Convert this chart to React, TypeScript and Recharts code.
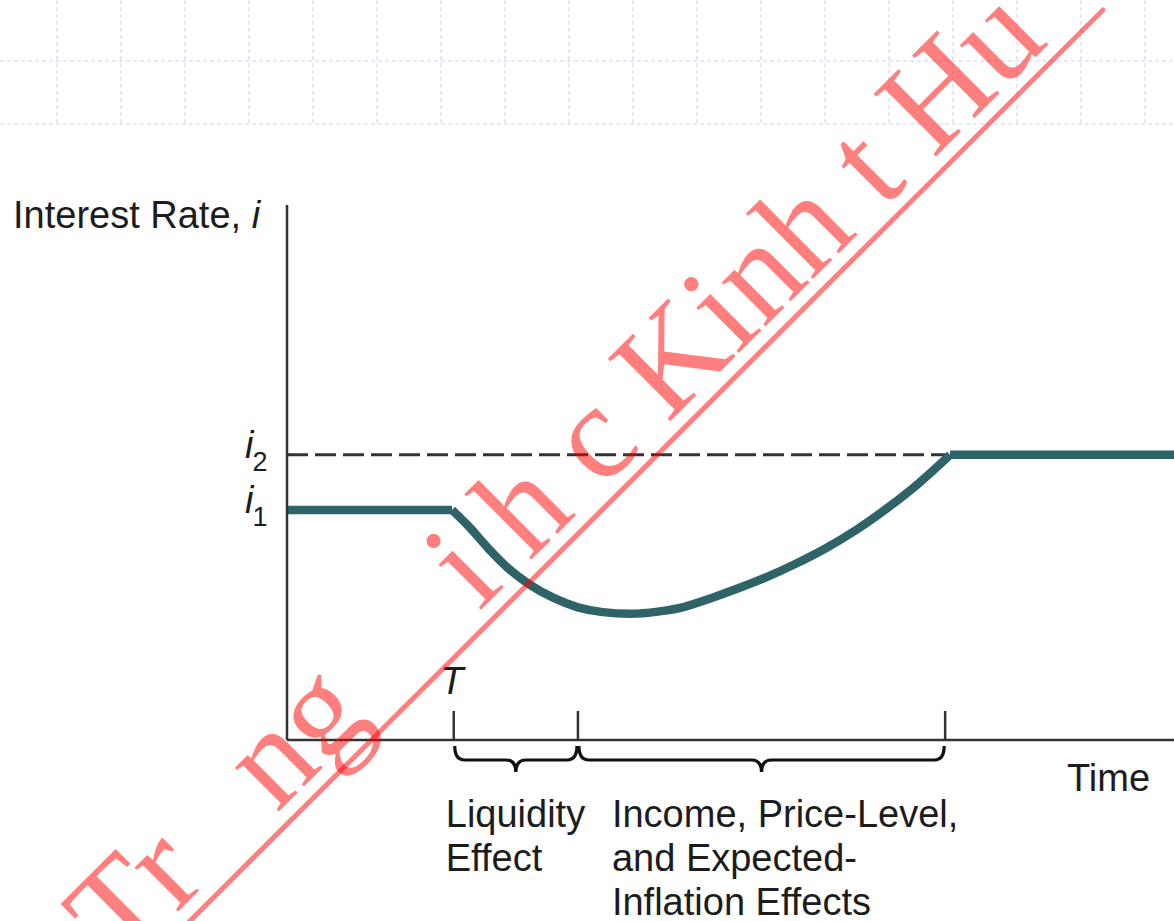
import React from 'react';
import { ComposedChart, Line, XAxis, YAxis, ReferenceLine, ReferenceArea } from 'recharts';

// ---- data (time in % of horizon, interest rate in arbitrary units 0..10) ----
const preShockTimes = [0, 18.6];
const preShockRates = [4.3, 4.3];
const responseTimes = [18.6, 20.5, 22.7, 25.0, 27.4, 30.0, 32.8, 35.6, 38.7, 41.8, 44.8, 47.8, 50.8, 54.0, 57.3, 60.7, 64.2, 67.8, 71.3, 74.75];
const responseRates = [4.3, 3.99, 3.58, 3.2, 2.9, 2.66, 2.48, 2.39, 2.36, 2.4, 2.49, 2.65, 2.83, 3.04, 3.29, 3.58, 3.93, 4.35, 4.81, 5.33];
const postTimes = [74.75, 100];
const postRates = [5.33, 5.33];

const rateTicks = [4.3, 5.33];
const rateTickLabels = ['1', '2'];
const timeTicks = [18.8, 32.8, 74.2];
const shockLabel = 'T';
const liquidityLines = ['Liquidity', 'Effect'];
const incomeLines = ['Income, Price-Level,', 'and Expected-', 'Inflation Effects'];
const yTitle = 'Interest Rate, ';
const yTitleItalic = 'i';
const xTitle = 'Time';

const watermarkChunks = ['Tr', 'ng', 'i h c Kinh t Hu'];
const watermarkOffsets = [-82, 137, 423];

const toRows = (ts: number[], vs: number[]) => ts.map((t, i) => ({ t, rate: vs[i] }));
const preData = toRows(preShockTimes, preShockRates);
const responseData = toRows(responseTimes, responseRates);
const postData = toRows(postTimes, postRates);

const FONT = '"Liberation Sans", Arial, Helvetica, sans-serif';
const TEXT = '#1c1c1c';
const AXIS = '#333333';
const TEAL = '#2e6468';

const YTick = (props: any) => {
  const { x, y, index } = props;
  return (
    <text x={x - 42} y={y + 3} fontFamily={FONT} fontSize={38} fill={TEXT}>
      <tspan fontStyle="italic">i</tspan>
      <tspan fontSize={27} dx={-1} dy={13}>{rateTickLabels[index]}</tspan>
    </text>
  );
};

const XTick = (props: any) => {
  const { x, y, index } = props;
  return (
    <g>
      <line x1={x} x2={x} y1={y - 29} y2={y} stroke={AXIS} strokeWidth={2.5} />
      {index === 0 && (
        <text x={x - 2} y={y - 46} textAnchor="middle" fontFamily={FONT} fontSize={38} fontStyle="italic" fill={TEXT}>
          {shockLabel}
        </text>
      )}
    </g>
  );
};

const bracePath = (x1: number, x2: number, y0: number) => {
  const mid = (x1 + x2) / 2;
  const y1 = y0 + 14;
  const tip = y0 + 26;
  const q = 10;
  return `M${x1},${y0} Q${x1},${y1} ${x1 + q},${y1} L${mid - q},${y1} Q${mid},${y1} ${mid},${tip} Q${mid},${y1} ${mid + q},${y1} L${x2 - q},${y1} Q${x2},${y1} ${x2},${y0}`;
};

const makeBrace = (lines: string[], textDx: number) => (props: any) => {
  const { x, y, width, height } = props;
  const base = y + height;
  return (
    <g>
      <path d={bracePath(x + 1, x + width - 1, base + 6)} fill="none" stroke="#111" strokeWidth={3.2} />
      <text x={x + textDx} fontFamily={FONT} fontSize={38} fill={TEXT}>
        {lines.map((l, i) => (
          <tspan key={i} x={x + textDx} y={base + 87 + i * 44}>{l}</tspan>
        ))}
      </text>
    </g>
  );
};

const LiquidityBrace = makeBrace(liquidityLines, -8);
const IncomeBrace = makeBrace(incomeLines, 34);

const YLabel = (props: any) => {
  const vb = props.viewBox;
  return (
    <text x={vb.x + vb.width - 274} y={vb.y + 23} fontFamily={FONT} fontSize={38} fill={TEXT}>
      {yTitle}
      <tspan fontStyle="italic">{yTitleItalic}</tspan>
    </text>
  );
};

const XLabel = (props: any) => {
  const vb = props.viewBox;
  return (
    <text x={vb.x + vb.width - 107} y={vb.y + 51} fontFamily={FONT} fontSize={38} fill={TEXT}>
      {xTitle}
    </text>
  );
};

const BackgroundGrid = () => {
  const cols: number[] = [];
  for (let i = 0; i < 18; i++) cols.push(57 + i * 64);
  return (
    <svg width={1174} height={921} style={{ position: 'absolute', left: 0, top: 0 }}>
      {cols.map((c) => (
        <line key={c} x1={c} x2={c} y1={0} y2={124} stroke="#c7d3fb" strokeWidth={1} strokeDasharray="4 3" />
      ))}
      <line x1={0} x2={1174} y1={61} y2={61} stroke="#c7d3fb" strokeWidth={1} strokeDasharray="4 3" />
      <line x1={0} x2={1174} y1={124} y2={124} stroke="#c7d3fb" strokeWidth={1} strokeDasharray="4 3" />
    </svg>
  );
};

const Watermark = () => {
  const ang = (44.9 * Math.PI) / 180;
  const ux = Math.cos(ang), uy = -Math.sin(ang);
  const vx = -Math.sin(ang), vy = -Math.cos(ang);
  const x0 = 190, y0 = 921, d = 15;
  return (
    <svg width={1174} height={921} style={{ position: 'absolute', left: 0, top: 0, pointerEvents: 'none' }}>
      <line x1={185} y1={926} x2={1103} y2={10} stroke="rgba(255,0,0,0.5)" strokeWidth={5} strokeLinecap="round" />
      {watermarkChunks.map((c, i) => {
        const s = watermarkOffsets[i];
        const px = x0 + s * ux + d * vx;
        const py = y0 + s * uy + d * vy;
        return (
          <text key={i} x={px} y={py} transform={`rotate(-44.9 ${px} ${py})`} fontFamily='"Liberation Serif", "Times New Roman", serif' fontSize={135} fill="rgba(255,0,0,0.5)" style={{ whiteSpace: 'pre' }}>
            {c}
          </text>
        );
      })}
    </svg>
  );
};

export default function App() {
  return (
    <div style={{ position: 'absolute', left: 0, top: 0, width: 1174, height: 921, overflow: 'hidden', background: '#fff' }}>
      <BackgroundGrid />
      <div style={{ position: 'absolute', left: 0, top: 0 }}>
        <ComposedChart width={1174} height={921} margin={{ top: 205, right: 0, bottom: 151, left: 227 }}>
          <XAxis
            type="number"
            dataKey="t"
            domain={[0, 100]}
            ticks={timeTicks}
            allowDataOverflow
            tickLine={false}
            tickSize={0}
            tickMargin={0}
            height={30}
            axisLine={{ stroke: AXIS, strokeWidth: 2.5 }}
            tick={<XTick />}
            label={<XLabel />}
          />
          <YAxis
            type="number"
            dataKey="rate"
            domain={[0, 10]}
            ticks={rateTicks}
            allowDataOverflow
            tickLine={false}
            tickSize={0}
            tickMargin={0}
            width={60}
            axisLine={{ stroke: AXIS, strokeWidth: 2.5 }}
            tick={<YTick />}
            label={<YLabel />}
          />
          <ReferenceLine
            segment={[{ x: 0, y: rateTicks[1] }, { x: timeTicks[2], y: rateTicks[1] }]}
            stroke={AXIS}
            strokeWidth={3}
            strokeDasharray="21 7"
            ifOverflow="visible"
          />
          <ReferenceArea x1={timeTicks[0]} x2={timeTicks[1]} y1={0} y2={0.05} shape={<LiquidityBrace />} ifOverflow="visible" />
          <ReferenceArea x1={timeTicks[1]} x2={timeTicks[2]} y1={0} y2={0.05} shape={<IncomeBrace />} ifOverflow="visible" />
          <Line data={preData} dataKey="rate" type="linear" stroke={TEAL} strokeWidth={8.5} dot={false} isAnimationActive={false} />
          <Line data={responseData} dataKey="rate" type="monotone" stroke={TEAL} strokeWidth={8.5} dot={false} isAnimationActive={false} />
          <Line data={postData} dataKey="rate" type="linear" stroke={TEAL} strokeWidth={8.5} dot={false} isAnimationActive={false} />
        </ComposedChart>
      </div>
      <Watermark />
    </div>
  );
}
